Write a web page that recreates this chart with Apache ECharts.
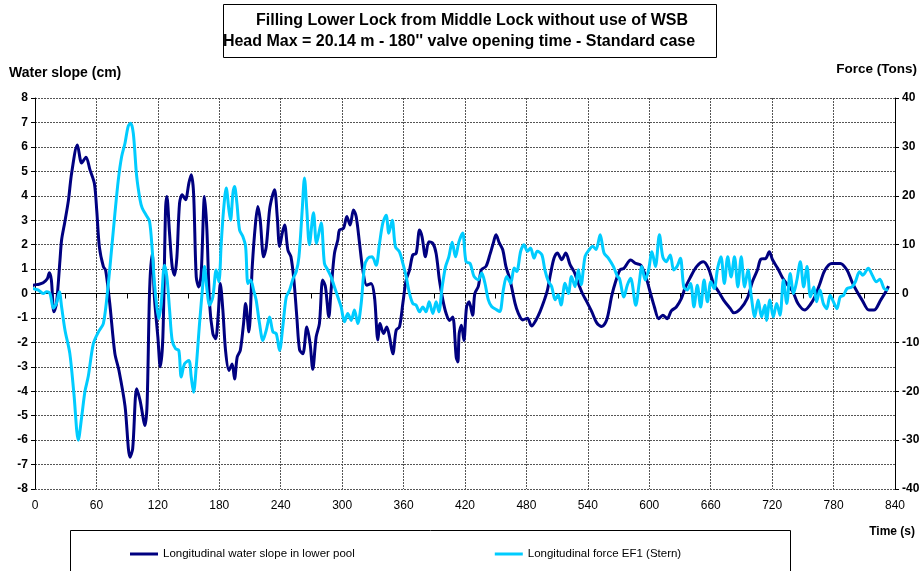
<!DOCTYPE html>
<html>
<head>
<meta charset="utf-8">
<script src="https://cdn.jsdelivr.net/npm/echarts@6/dist/echarts.min.js"></script>
<style>
  html, body { margin: 0; padding: 0; background: #fff; }
  #chart { width: 924px; height: 571px; }
</style>
</head>
<body>
<div id="chart"></div>
<script>
// axis ticks
const timeTicks = [0, 60, 120, 180, 240, 300, 360, 420, 480, 540, 600, 660, 720, 780, 840];
const slopeTicks = [-8, -7, -6, -5, -4, -3, -2, -1, 0, 1, 2, 3, 4, 5, 6, 7, 8];
const forceTicks = [-40, -30, -20, -10, 0, 10, 20, 30, 40];

// Longitudinal water slope in lower pool [time s, cm]
const waterSlope = [
    [-10, 0.2], [-1.6, 0.34], [4, 0.38], [8, 0.44], [12, 0.6], [14, 0.85], [16, 0.55], [18.5, -0.75], [21, -0.4],
    [24.4, 1.37], [26, 2.2], [29, 2.9], [32.6, 3.8], [35.8, 4.93], [41.4, 6.08], [45.6, 5.34], [49.8, 5.58],
    [53.7, 5.06], [58, 4.5], [60.3, 3.4], [62.9, 1.9], [66.8, 1.1], [69, 0.95], [73, -0.4], [78, -2.45],
    [82, -3.15], [87.9, -4.6], [92.8, -6.7], [95.4, -6.36], [99.3, -3.9], [102.6, -4.37], [107.5, -5.4],
    [109.5, -4.5], [112, 0.2], [114.5, 1.64], [116.7, -0.2], [120, -1.78], [122.3, -3.0], [124.9, -1.78],
    [127.5, 3.42], [128.8, 3.97], [131.4, 2.47], [134, 1.1], [136.3, 0.75], [138.6, 1.5], [141.2, 3.7],
    [143.8, 4.04], [147, 3.84], [150.3, 4.52], [152.6, 4.86], [154.9, 4.1], [157.5, 0.68], [160, 0.27],
    [162.3, 0.8], [165.6, 3.97], [167.9, 2.6], [170.5, -0.41], [173.7, -1.64], [176.4, -1.85], [179, -0.82],
    [181, 0.41], [183.5, -0.68], [186.1, -2.33], [189.4, -3.15], [192.6, -2.88], [194.9, -3.5], [197.5, -2.6],
    [200.5, -2.33], [203.7, -1.23], [205.7, -0.41], [208.9, -1.57], [212.2, 1.1], [215.4, 2.88], [217.7, 3.56],
    [220, 3.0], [223.3, 1.5], [225.9, 1.92], [229.1, 3.42], [231.7, 3.97], [234, 4.25], [236.6, 3.15],
    [238.9, 1.92], [241.5, 2.47], [243.8, 2.8], [247, 1.78], [250, 1.5], [253, 0.5], [255.8, -1.0],
    [258.4, -2.3], [261.6, -2.47], [265.5, -1.37], [268.7, -2.05], [271.3, -3.1], [274.6, -1.78],
    [277.8, -1.23], [281, 0.55], [283.7, 0.27], [287, -0.96], [289.2, 0.14], [292.5, 1.64], [295.8, 2.2],
    [297.4, 2.6], [301.3, 2.67], [304.6, 3.15], [307.8, 2.8], [311, 3.42], [313.7, 3.15], [317, 2.05],
    [320.2, 0.96], [324, 0.34], [328.3, 0.41], [331.6, -0.14], [334.9, -1.9], [337, -1.23], [340.4, -1.64],
    [343.6, -1.37], [346.3, -1.78], [349.5, -2.47], [352.8, -1.5], [356, -1.37], [359.3, -0.4], [362.5, 0.55],
    [365.8, 0.96], [369, 1.58], [372.3, 1.64], [375.6, 2.6], [378, 2.33], [381.4, 1.5], [384.7, 2.12],
    [388.6, 2.05], [391.8, 1.64], [395, 0.55], [398.4, -0.27], [401.6, -0.82], [405, -1.1], [408, -0.96],
    [411.4, -2.6], [413, -2.8], [414.3, -1.64], [416.6, -1.3], [418.9, -1.92], [421.5, -0.55], [424, -0.34],
    [427.4, -0.89], [429.6, 0], [433, 0.29], [436, 0.97], [440.5, 1.11], [444.4, 1.6], [447.7, 2.07],
    [450.3, 2.4], [453.5, 2.07], [456.8, 1.8], [460, 1.1], [464, 0.56], [468.9, -0.4], [472, -0.8],
    [476.4, -1.08], [481, -1.01], [485, -1.33], [489.4, -1.08], [493.3, -0.74], [497, -0.33], [500.5, 0.14],
    [503.7, 0.84], [507, 1.45], [510.2, 1.66], [514.5, 1.38], [518.4, 1.66], [522.6, 1.18], [526.5, 0.9],
    [530.7, 0.42], [534.7, 0], [538.9, -0.33], [543.8, -0.74], [548.7, -1.2], [553.6, -1.35], [558.4, -1.08],
    [563.3, -0.1], [567.2, 0.5], [571.5, 0.97], [575.2, 1.03], [581.8, 1.37], [586.8, 1.23], [591.7, 1.16],
    [596.7, 0.68], [601.7, -0.07], [605, -0.55], [609.2, -1.03], [613.2, -0.89], [617.5, -1.03], [621.5, -0.71],
    [626.4, -0.55], [631.4, -0.2], [634.7, 0.2], [639.6, 0.62], [646.2, 1.1], [652.8, 1.3], [657.8, 1.03],
    [662.7, 0.41], [667.7, 0.07], [672.6, -0.27], [679.2, -0.62], [682.5, -0.79], [689.1, -0.62], [695.7, -0.2],
    [700.7, 0.48], [705.6, 0.96], [708.9, 1.4], [713.9, 1.44], [717.2, 1.71], [720.5, 1.37], [725.4, 1.03],
    [730.4, 0.62], [735.3, 0.34], [740.3, 0.07], [745.2, -0.41], [751.8, -0.68], [756.8, -0.48], [761.7, -0.14],
    [766.7, 0.41], [771.6, 0.96], [778.2, 1.23], [786.5, 1.23], [793.1, 0.96], [798, 0.48], [803, 0.07],
    [807.9, -0.27], [814.5, -0.68], [819.5, -0.68], [826, -0.27], [831, 0.07], [833.7, 0.3]
];

// Longitudinal force EF1 (Stern) [time s, tons]
const sternForce = [
    [-10, 1.7], [-1.6, 1.0], [3.3, 0.7], [8, 0], [11.4, 0.35], [14.6, 0], [18, -3], [21, -2], [23.8, 0.35],
    [26, -2.75], [29.3, -7.5], [34, -12.25], [38, -20.5], [42.3, -30], [45.6, -25.25], [48.8, -20], [52, -17],
    [57, -10.25], [62, -7.85], [66.8, -6.15], [71.6, 2], [75, 9.5], [78, 16.25], [81.4, 23.3], [84.6, 28],
    [87.9, 30.75], [91, 34.2], [93.4, 34.85], [96, 32.8], [99.3, 24], [102.6, 19.2], [104.7, 17.5], [108.6, 16],
    [111.9, 14.75], [114.5, 8.9], [116.7, 2.05], [119, -2.75], [121, -5.15], [123.3, -2], [126.5, 5.8],
    [128.8, 3.4], [131.4, -3.2], [134, -9.6], [137.3, -11.3], [140.5, -11.65], [142.8, -17.1], [146, -14.4],
    [150.3, -13.7], [152.6, -17.1], [154.9, -20.2], [157.5, -15], [160.7, -6.15], [164, 2.05], [165.6, 5.5],
    [168, 0.7], [170.5, -2.4], [173.7, -0.7], [177, 4.8], [179.6, 2.4], [181.9, 10.25], [184.2, 17.1],
    [186.8, 21.6], [189.4, 17.1], [191, 15], [193.3, 20.5], [194.9, 21.9], [197.2, 18.5], [199.8, 13],
    [203, 11.65], [205.7, 9.6], [208, 2.05], [210.6, 2.75], [213.5, 0.7], [216, -1.35], [219.3, -6.15],
    [222.6, -9.6], [225.9, -7.5], [229.1, -4.8], [232.4, -7.85], [235.6, -8.2], [238.9, -11.65], [242, -6.85],
    [245.4, -0.7], [248.7, 0.7], [252, 3], [255.2, 4.5], [257.8, 7.5], [261, 17.1], [263.2, 23.65],
    [265.5, 17.1], [268, 10], [272, 16.5], [275, 10.25], [279.5, 14.5], [282.7, 6.15], [286, 4.8], [289.2, 3.4],
    [292.5, 1.35], [295.8, -0.7], [299, -2.75], [302.3, -5.8], [305.5, -4.1], [308.8, -5.5], [312, -3.4],
    [315.3, -6.15], [318.6, -2.05], [321.8, 5.5], [325, 7.2], [329.3, 7.5], [333.2, 5.8], [336.5, 10.25],
    [339.7, 14.4], [343, 16], [345.6, 12.35], [348.9, 15], [352, 9.6], [356, 8.5], [359.3, 6.15], [362.5, 3.5],
    [365.8, 0], [369, -2.05], [372.3, -2.4], [375.6, -3.75], [378.8, -2.75], [382, -3.75], [385, -1.7],
    [388.6, -4.1], [391.8, -1.7], [394.5, -3.75], [397.7, 1.35], [401, 5.5], [404.2, 7.5], [407.5, 10.5],
    [410.7, 7.5], [414, 10.5], [417.7, 12.4], [421, 6.5], [425, 6.15], [428.8, 3.5], [433, 2.8], [436.3, 4.2],
    [439.5, 2.1], [442.8, -1.3], [446, -2.65], [451, -3.35], [454, -3.7], [457.5, 0.8], [460.7, 3.5],
    [464.6, 2.1], [468, 5.2], [470.5, 4.5], [474.4, 8.65], [477.6, 10], [481, 8.65], [484, 9.3], [487.4, 7.25],
    [490.6, 8.65], [495, 7.95], [498, 4.85], [501.4, 2.5], [504.7, 1.4], [508, -1.3], [511, -0.25],
    [513.8, -2.35], [517.7, 2.1], [521, 0], [524, 3.5], [527.5, 1.4], [530.7, 4.85], [533.4, 1.8], [537.3, 7.6],
    [541.5, 9], [544.8, 9.65], [548, 9], [552, 12], [555.8, 8.3], [560, 7.25], [565, 5.5], [568.9, 3.5],
    [571, 3.0], [575.2, -0.7], [578.5, 1.7], [581.8, 3.1], [586.8, -2.4], [590.1, 2.05], [592.7, 5.5],
    [596, 2.75], [599.3, 4.8], [602.6, 8.55], [606, 5.5], [609.9, 12], [613.2, 7.5], [616.5, 6.5], [620.5, 7.9],
    [623.8, 4.8], [627.1, 5.5], [630.4, 7.2], [633.7, 1.35], [637, 0.7], [640.3, 2.05], [643.6, -2.75],
    [646.9, 1.7], [650.2, -2.75], [653.5, 2.75], [656.8, -1.7], [660.1, 2.4], [663.4, 1], [666.7, 5.15],
    [670, 7.5], [673.3, 2.05], [676.6, 7.5], [679.9, 3.4], [683.2, 7.5], [686.5, 1.35], [689.8, 7.5],
    [693.1, 1.35], [696.4, 4.8], [699.7, -0.7], [703, -4.8], [706.3, -1.35], [709.6, -4.8], [712.9, -2.4],
    [714.5, -5.5], [717.8, -1.35], [721.1, -4.8], [724.4, -2.05], [727.7, -4.45], [731, 2.75], [734.3, -2.05],
    [737.6, 4.1], [740.9, 0], [744.2, 2.75], [747.5, 6.5], [750.8, 1.35], [754.1, 5.5], [757.4, -0.7],
    [760.7, 1.35], [763.4, -1.7], [766.7, 0.7], [770, -2.05], [773.3, -3.1], [776.6, -0.35], [779.9, -1.7],
    [783.2, -3.1], [786.5, -0.7], [789.8, -0.35], [793.1, 1], [798, 1.35], [801.3, 2.4], [805.3, 4.45],
    [808.6, 3.75], [813.9, 5.15], [817.8, 3.75], [821.8, 2.4], [825.1, 2.9], [829.4, 1], [833.3, 0.7]
];

const titleLines = [
    'Filling Lower Lock from Middle Lock without use of WSB',
    "Head Max = 20.14 m - 180'' valve opening time - Standard case"
];
const seriesNames = ['Longitudinal water slope in lower pool', 'Longitudinal force EF1 (Stern)'];

const FONT = '"Liberation Sans", Arial, sans-serif';

const chart = echarts.init(document.getElementById('chart'));

const gridLine = { show: true, lineStyle: { color: '#555', type: [2, 1], width: 1 } };

chart.setOption({
    animation: false,
    backgroundColor: '#fff',
    grid: { left: 35, right: 29, top: 98, bottom: 82 },
    legend: {
        data: seriesNames,
        left: 125,
        top: 543,
        itemWidth: 28,
        itemHeight: 3,
        itemGap: 140,
        icon: 'rect',
        textStyle: { fontFamily: FONT, fontSize: 11.5, color: '#000' }
    },
    xAxis: {
        type: 'value',
        min: timeTicks[0],
        max: timeTicks[timeTicks.length - 1],
        interval: 60,
        axisLine: { lineStyle: { color: '#000', width: 1 } },
        axisTick: { show: true, inside: false, length: 5, lineStyle: { color: '#000' } },
        minorTick: { show: true, splitNumber: 2, length: 5, lineStyle: { color: '#000' } },
        splitLine: gridLine,
        axisLabel: { fontFamily: FONT, fontSize: 12, color: '#000', margin: 11 }
    },
    yAxis: [
        {
            type: 'value',
            min: slopeTicks[0],
            max: slopeTicks[slopeTicks.length - 1],
            interval: 1,
            axisLine: { show: true, lineStyle: { color: '#000' } },
            axisTick: { show: true, length: 4, lineStyle: { color: '#000' } },
            splitLine: gridLine,
            axisLabel: { fontFamily: FONT, fontSize: 12, fontWeight: 'bold', color: '#000', margin: 7 }
        },
        {
            type: 'value',
            min: forceTicks[0],
            max: forceTicks[forceTicks.length - 1],
            interval: 10,
            position: 'right',
            axisLine: { show: true, lineStyle: { color: '#000' } },
            axisTick: { show: true, length: 4, lineStyle: { color: '#000' } },
            splitLine: { show: false },
            axisLabel: { fontFamily: FONT, fontSize: 12, fontWeight: 'bold', color: '#000', margin: 7 }
        }
    ],
    graphic: [
        {
            type: 'rect',
            shape: { x: 223.5, y: 4.5, width: 493, height: 53 },
            style: { fill: '#fff', stroke: '#000', lineWidth: 1 }
        },
        {
            type: 'text',
            x: 472, y: 21,
            style: { text: titleLines[0], font: 'bold 16px ' + FONT, fill: '#000', align: 'center', verticalAlign: 'middle' }
        },
        {
            type: 'text',
            x: 459, y: 42,
            style: { text: titleLines[1], font: 'bold 16px ' + FONT, fill: '#000', align: 'center', verticalAlign: 'middle' }
        },
        {
            type: 'text',
            x: 9, y: 73,
            style: { text: 'Water slope (cm)', font: 'bold 14px ' + FONT, fill: '#000', verticalAlign: 'middle' }
        },
        {
            type: 'text',
            x: 917, y: 69,
            style: { text: 'Force (Tons)', font: 'bold 13.5px ' + FONT, fill: '#000', align: 'right', verticalAlign: 'middle' }
        },
        {
            type: 'text',
            x: 915, y: 532,
            style: { text: 'Time (s)', font: 'bold 12px ' + FONT, fill: '#000', align: 'right', verticalAlign: 'middle' }
        },
        {
            type: 'rect',
            z: -1,
            shape: { x: 70.5, y: 530.5, width: 720, height: 60 },
            style: { fill: '#fff', stroke: '#000', lineWidth: 1 }
        }
    ],
    series: [
        {
            name: seriesNames[0],
            type: 'line',
            yAxisIndex: 0,
            data: waterSlope,
            showSymbol: false,
            smooth: 0.3,
            clip: false,
            color: '#000080',
            lineStyle: { width: 3, color: '#000080' }
        },
        {
            name: seriesNames[1],
            type: 'line',
            yAxisIndex: 1,
            data: sternForce,
            showSymbol: false,
            smooth: 0.3,
            clip: false,
            color: '#00CCFF',
            lineStyle: { width: 3, color: '#00CCFF' }
        }
    ]
});
</script>
</body>
</html>
